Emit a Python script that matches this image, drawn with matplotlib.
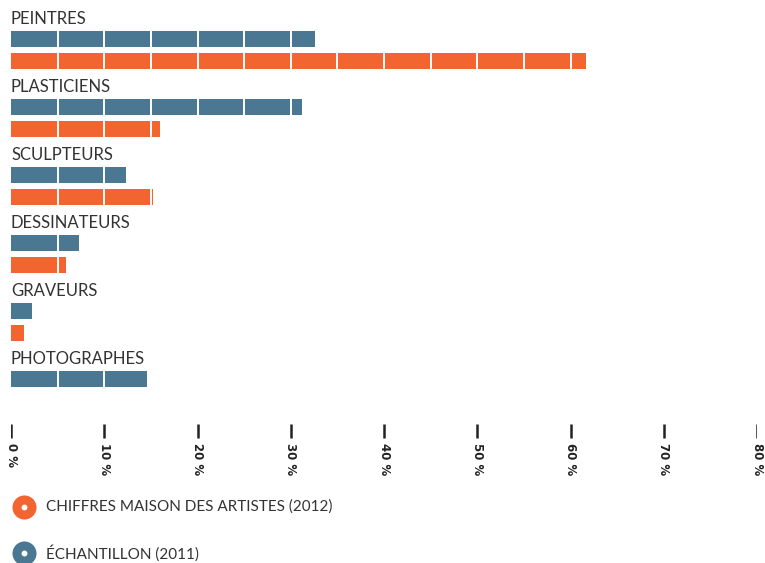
import matplotlib
matplotlib.use("Agg")
import matplotlib.pyplot as plt

plt.rcParams['font.family'] = ['Lato', 'DejaVu Sans']

categories = ["PEINTRES", "PLASTICIENS", "SCULPTEURS", "DESSINATEURS", "GRAVEURS", "PHOTOGRAPHES"]
echantillon_2011 = [32.6, 31.2, 12.3, 7.3, 2.25, 14.6]
maison_artistes_2012 = [61.7, 16.0, 15.2, 5.9, 1.4, None]
tick_values = [0, 10, 20, 30, 40, 50, 60, 70, 80]
tick_labels = ["0 %", "10 %", "20 %", "30 %", "40 %", "50 %", "60 %", "70 %", "80 %"]
legend_labels = ["CHIFFRES MAISON DES ARTISTES (2012)", "ÉCHANTILLON (2011)"]

BLUE = "#4a7893"
ORANGE = "#f26531"
TEXT = "#333333"

W, H = 765, 563
fig = plt.figure(figsize=(W / 100, H / 100), dpi=100)
x0, x1 = 11, 757
ax = fig.add_axes([x0 / W, 0, (x1 - x0) / W, 1])
ax.set_xlim(0, 80)
ax.set_ylim(H, 0)
ax.axis("off")

group_step = 68
bar_h = 16
label_y = 19
blue_y = 39
orange_y = 61
grid_step = 5

def draw_bar(value, yc, color):
    ax.barh(yc, value, height=bar_h, left=0, color=color, linewidth=0)
    g = grid_step
    while g < value:
        ax.vlines(g, yc - bar_h / 2, yc + bar_h / 2, colors="white", linewidth=1.4)
        g += grid_step

for i, cat in enumerate(categories):
    off = i * group_step
    ax.text(0, label_y + off, cat, fontsize=12, color=TEXT, va="center", ha="left")
    draw_bar(echantillon_2011[i], blue_y + off, BLUE)
    if maison_artistes_2012[i] is not None:
        draw_bar(maison_artistes_2012[i], orange_y + off, ORANGE)

# axis ticks: short dashes with rotated labels below
for v, lab in zip(tick_values, tick_labels):
    ax.vlines(v, 424, 438, colors="#222222", linewidth=1.8)
    ax.text(v, 443, lab, rotation=270, fontsize=8.5, fontweight="bold",
            family=["DejaVu Sans"],
            color="#222222", ha="center", va="top")

# legend
lax = fig.add_axes([0, 0, 1, 1])
lax.set_xlim(0, W)
lax.set_ylim(H, 0)
lax.axis("off")
for lab, color, y in zip(legend_labels, [ORANGE, BLUE], [507, 553]):
    lax.scatter([24], [y], s=300, color=color, linewidths=0)
    lax.scatter([24], [y], s=18, color="white", linewidths=0)
    lax.text(46, y, lab, fontsize=11, color=TEXT, va="center", ha="left")

fig.savefig("out.png", dpi=100)
